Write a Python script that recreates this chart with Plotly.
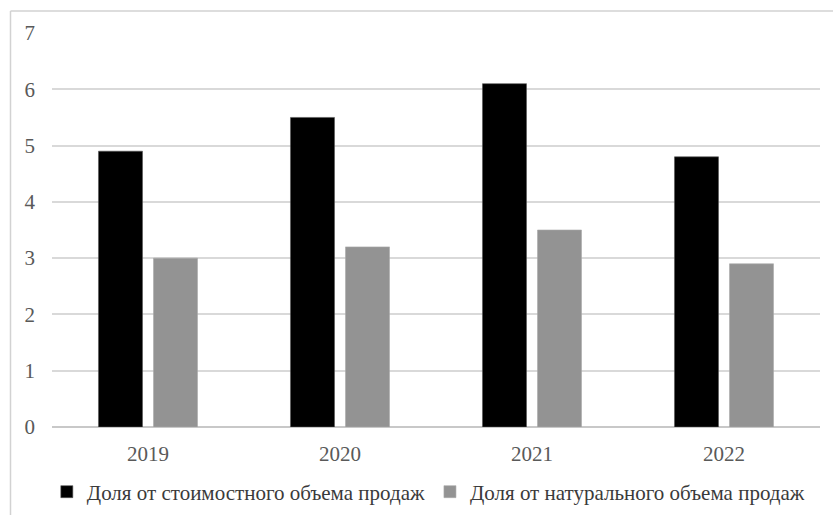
import plotly.graph_objects as go

years = ["2019", "2020", "2021", "2022"]
value_share = [4.9, 5.5, 6.1, 4.8]
volume_share = [3.0, 3.2, 3.5, 2.9]
y_ticks = [0, 1, 2, 3, 4, 5, 6, 7]

series_names = [
    "Доля от стоимостного объема продаж",
    "Доля от натурального объема продаж",
]

font_family = "Liberation Serif, Times New Roman, serif"

fig = go.Figure()
fig.add_trace(go.Bar(
    x=years, y=value_share, name=series_names[0],
    marker=dict(color="#000000", line=dict(color="#555555", width=0.6)),
))
fig.add_trace(go.Bar(
    x=years, y=volume_share, name=series_names[1],
    marker=dict(color="#939393", line=dict(color="#aaaaaa", width=0.6)),
))

# Outer frame (top and left edges only)
W, H = 833, 515
ml, mr, mt, mb = 52, 13, 33, 88
pw, ph = W - ml - mr, H - mt - mb
fx = (10.5 - ml) / pw
fy = (H - mb - 11) / ph
frame = dict(color="#d2d2d2", width=1.5)
fig.add_shape(type="line", xref="paper", yref="paper",
              x0=fx, x1=1.2, y0=fy, y1=fy, line=frame)
fig.add_shape(type="line", xref="paper", yref="paper",
              x0=fx, x1=fx, y0=fy, y1=-0.4, line=frame)

fig.update_layout(
    width=W, height=H,
    margin=dict(l=ml, r=mr, t=mt, b=mb, autoexpand=False),
    paper_bgcolor="white", plot_bgcolor="white",
    barmode="group", bargap=0.427, bargroupgap=0.2,
    font=dict(family=font_family, size=21, color="#595959"),
    showlegend=True,
    legend=dict(
        orientation="h", x=0.49, xanchor="center", y=-0.165, yanchor="middle",
        font=dict(family=font_family, size=21, color="#3a3a3a"),
        itemwidth=30, traceorder="normal", tracegroupgap=0,
    ),
    xaxis=dict(
        showgrid=False, showline=False, ticks="", automargin=False,
        tickfont=dict(family=font_family, size=21, color="#595959"),
        ticklabelstandoff=12,
    ),
    yaxis=dict(
        range=[0, 7], tickvals=y_ticks, ticks="", automargin=False,
        showgrid=True, gridcolor="#d9d9d9", gridwidth=1.5,
        zeroline=True, zerolinecolor="#c8c8c8", zerolinewidth=1.5,
        showline=False,
        tickfont=dict(family=font_family, size=21, color="#595959"),
        ticklabelstandoff=16,
    ),
)

fig.write_html("out.html")
